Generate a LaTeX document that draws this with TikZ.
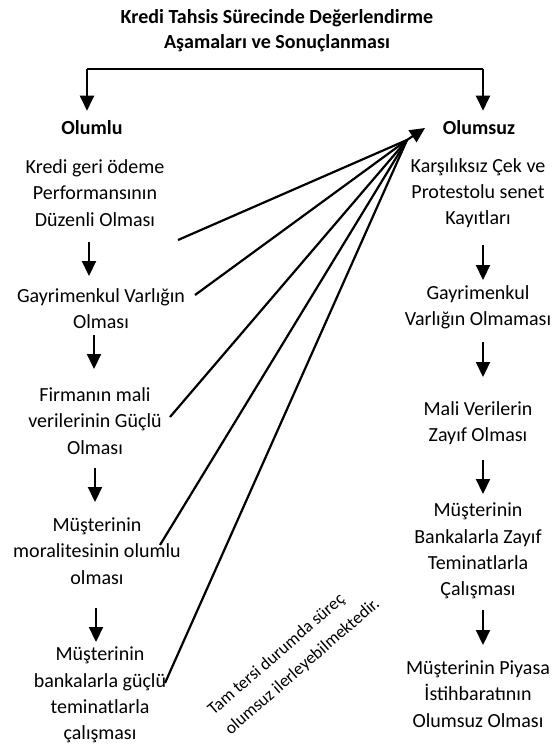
\documentclass[tikz,border=0pt]{standalone}
\usepackage{fontspec}
\setmainfont{Carlito}
\usetikzlibrary{arrows.meta}
\begin{document}
\begin{tikzpicture}[x=1pt,y=-1pt,
  txt/.style={font=\fontsize{20}{26.3}\selectfont, align=center, inner sep=0pt},
  hdr/.style={font=\fontsize{20}{26}\selectfont\bfseries, inner sep=0pt},
  ttl/.style={font=\fontsize{20}{25}\selectfont\bfseries, align=center, inner sep=0pt},
  note/.style={font=\fontsize{17.4}{26}\selectfont, align=left, inner sep=0pt, rotate=41},
  dn/.style={line width=2.2pt, -{Triangle[width=14pt,length=15pt]}},
  ln/.style={line width=2.2pt},
]
\useasboundingbox (0,0) rectangle (553,747);
% title
\node[ttl] (title) at (277,30.5) {Kredi Tahsis Sürecinde Değerlendirme\\Aşamaları ve Sonuçlanması};
% headers
\node[hdr] (olumlu) at (92,128) {Olumlu};
\node[hdr] (olumsuz) at (479,128) {Olumsuz};
% left column
\node[txt] (a1) at (95,193) {Kredi geri ödeme\\Performansının\\Düzenli Olması};
\node[txt] (a2) at (101,308.5) {Gayrimenkul Varlığın\\Olması};
\node[txt] (a3) at (95,421) {Firmanın mali\\verilerinin Güçlü\\Olması};
\node[txt] (a4) at (97,551) {Müşterinin\\moralitesinin olumlu\\olması};
\node[txt] (a5) at (100,695) {Müşterinin\\bankalarla güçlü\\teminatlarla\\çalışması};
% right column
\node[txt] (b1) at (478,193) {Karşılıksız Çek ve\\Protestolu senet\\Kayıtları};
\node[txt] (b2) at (478,307.5) {Gayrimenkul\\Varlığın Olmaması};
\node[txt] (b3) at (478,423.5) {Mali Verilerin\\Zayıf Olması};
\node[txt] (b4) at (478,551) {Müşterinin\\Bankalarla Zayıf\\Teminatlarla\\Çalışması};
\node[txt] (b5) at (478,694) {Müşterinin Piyasa\\İstihbaratının\\Olumsuz Olması};
% note
\node[note] (nt) at (294,657) {Tam tersi durumda süreç\\olumsuz ilerleyebilmektedir.};
% bracket from title
\coordinate (bl) at (87,69);
\coordinate (br) at (483,69);
\draw[ln] (bl) -- (br);
\draw[dn, shorten >=10pt] (bl) -- (bl |- olumlu.north);
\draw[dn, shorten >=10pt] (br) -- (br |- olumsuz.north);
% left vertical arrows
\coordinate (l1a) at (89,242); \coordinate (l1b) at (89,276);
\coordinate (l2a) at (94,335); \coordinate (l2b) at (94,369);
\coordinate (l3a) at (95,468); \coordinate (l3b) at (95,502);
\coordinate (l4a) at (96,608); \coordinate (l4b) at (96,642);
\draw[dn] (l1a) -- (l1b);
\draw[dn] (l2a) -- (l2b);
\draw[dn] (l3a) -- (l3b);
\draw[dn] (l4a) -- (l4b);
% right vertical arrows
\coordinate (r1a) at (483,245); \coordinate (r1b) at (483,280);
\coordinate (r2a) at (483,342); \coordinate (r2b) at (483,377);
\coordinate (r3a) at (483,460); \coordinate (r3b) at (483,494);
\coordinate (r4a) at (483,610); \coordinate (r4b) at (483,645);
\draw[dn] (r1a) -- (r1b);
\draw[dn] (r2a) -- (r2b);
\draw[dn] (r3a) -- (r3b);
\draw[dn] (r4a) -- (r4b);
% converging lines
\coordinate (conv) at (407,140);
\coordinate (tip) at (425,128);
\coordinate (s1) at (178,240);
\coordinate (s2) at (195,295);
\coordinate (s3) at (170,417);
\coordinate (s4) at (160,545);
\coordinate (s5) at (165,683);
\foreach \s in {s1,s2,s3,s4,s5}{\draw[ln] (\s) -- (conv);}
\draw[dn] (conv) -- (tip);
\end{tikzpicture}
\end{document}
